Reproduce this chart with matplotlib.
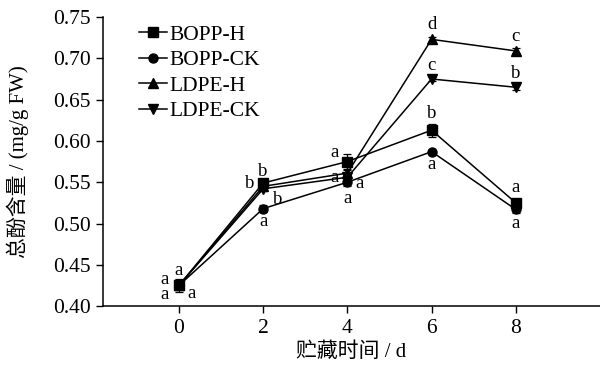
import matplotlib
matplotlib.use("Agg")
import matplotlib.pyplot as plt

plt.rcParams['font.family'] = ['Liberation Serif', 'Noto Sans CJK SC']
plt.rcParams['mathtext.fontset'] = 'stix'

days = [0, 2, 4, 6, 8]
series_names = ['BOPP-H', 'BOPP-CK', 'LDPE-H', 'LDPE-CK']
bopp_h = [0.425, 0.549, 0.575, 0.613, 0.525]
bopp_ck = [0.425, 0.518, 0.550, 0.587, 0.517]
ldpe_h = [0.425, 0.545, 0.561, 0.723, 0.709]
ldpe_ck = [0.425, 0.542, 0.556, 0.675, 0.665]
bopp_h_err = [0.008, 0.004, 0.009, 0.008, 0.004]
bopp_ck_err = [0.004, 0.004, 0.004, 0.002, 0.004]
ldpe_h_err = [0.004, 0.003, 0.004, 0.003, 0.003]
ldpe_ck_err = [0.004, 0.003, 0.004, 0.003, 0.003]
y_ticks = [0.40, 0.45, 0.50, 0.55, 0.60, 0.65, 0.70, 0.75]
x_label = '贮藏时间 / d'
y_label = '总酚含量 / (mg/g FW)'

# significance letters: (day, value anchor, letter)
letters_day = [0, 0, 0, 0, 2, 2, 2, 2, 4, 4, 4, 4, 6, 6, 6, 6, 8, 8, 8, 8]
letters_val = [0.425, 0.425, 0.425, 0.425, 0.549, 0.549, 0.545, 0.518,
               0.575, 0.561, 0.556, 0.550, 0.723, 0.675, 0.613, 0.587,
               0.709, 0.665, 0.525, 0.517]
letters_txt = ['a', 'a', 'a', 'a', 'b', 'b', 'b', 'a',
               'a', 'a', 'a', 'a', 'd', 'c', 'b', 'a',
               'c', 'b', 'a', 'a']
# offsets in pixels (dx, dy up)
letter_offsets = [(-14, 6), (0, 15), (-14, -9), (13, -8),
                  (-13, 0), (0, 12), (15, -13), (0, -13),
                  (-13, 9), (-13, -4), (12, -6), (0, -16),
                  (0, 15), (0, 13), (0, 17), (0, -13),
                  (0, 14), (0, 14), (0, 15), (0, -14)]

fig = plt.figure(figsize=(6.0, 3.71), dpi=100)
ax = fig.add_axes([0.172, 0.175, 0.828, 0.779])

markers = ['s', 'o', '^', 'v']
vals = [bopp_h, bopp_ck, ldpe_h, ldpe_ck]
errs = [bopp_h_err, bopp_ck_err, ldpe_h_err, ldpe_ck_err]
for name, v, e, m in zip(series_names, vals, errs, markers):
    ax.errorbar(days, v, yerr=e, color='black', marker=m, markersize=6.5,
                linewidth=1.1, elinewidth=0.9, capsize=3, capthick=0.9,
                label=name)

px2pt = 72.0 / 100
for d, v, t, (dx, dy) in zip(letters_day, letters_val, letters_txt, letter_offsets):
    ax.annotate(t, (d, v), xytext=(dx * px2pt, dy * px2pt), textcoords='offset points',
                ha='center', va='center', fontsize=13.5)

ax.set_xlim(-1.8, 10)
ax.set_ylim(0.40, 0.75)
ax.set_xticks(days)
ax.set_yticks(y_ticks)
ax.set_yticklabels([f'{t:.2f}' for t in y_ticks])
ax.tick_params(direction='out', length=5, width=1, labelsize=15.5, pad=4)
ax.spines['top'].set_visible(False)
ax.spines['right'].set_visible(False)
for s in ['left', 'bottom']:
    ax.spines[s].set_linewidth(1.1)

ax.set_xlabel(x_label, fontsize=15, va='center')
ax.set_ylabel(y_label, fontsize=15, va='center')
ax.xaxis.set_label_coords(0.50, -0.16)
ax.yaxis.set_label_coords(-0.171, 0.50)

handles, labels = ax.get_legend_handles_labels()
handles = [h[0] for h in handles]
leg = ax.legend(handles, labels, loc='upper left', bbox_to_anchor=(0.05, 1.01),
                frameon=False, fontsize=15.5, handlelength=1.3, handletextpad=0.1,
                labelspacing=0.25, borderaxespad=0.1)

fig.savefig('out.png', dpi=100)
